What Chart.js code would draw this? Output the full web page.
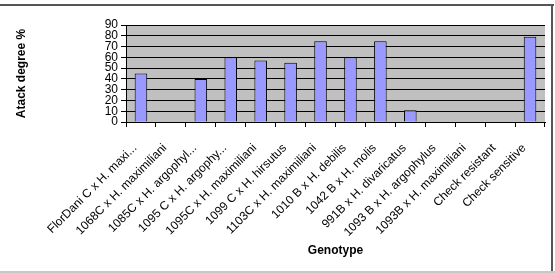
<!DOCTYPE html>
<html>
<head>
<meta charset="utf-8">
<script src="https://cdn.jsdelivr.net/npm/chart.js@4.4.1/dist/chart.umd.min.js"></script>
<style>
  html, body { margin: 0; padding: 0; background: #fff; }
  #wrap { position: relative; width: 555px; height: 273px; overflow: hidden; }
  #frame-top { position: absolute; left: 0; top: 4px; width: 554px; height: 2px; background: #555; }
  #frame-right { position: absolute; left: 551px; top: 4px; width: 2px; height: 268px; background: #555; }
  #frame-bottom { position: absolute; left: 0; top: 271px; width: 555px; height: 2px; background: #c8c8c8; }
</style>
</head>
<body>
<div id="wrap">
  <canvas id="chart" width="555" height="273"></canvas>
  <div id="frame-top"></div>
  <div id="frame-right"></div>
  <div id="frame-bottom"></div>
</div>
<script>
  const genotypes = [
    "FlorDani C x H. maxi...",
    "1068C x H. maximiliani",
    "1085C x H. argophyl...",
    "1095 C x H. argophy...",
    "1095C x H. maximiliani",
    "1099 C x H. hirsutus",
    "1103C x H. maximiliani",
    "1010 B x H. debilis",
    "1042 B x H. molis",
    "991B x H. divaricatus",
    "1093 B x H. argophylus",
    "1093B x H. maximiliani",
    "Check resistant",
    "Check sensitive",
  ];
  const attackDegree = [45, 0, 40, 60, 57, 55, 75, 60, 75, 11, 0, 0, 0, 79];
  const yTicks = [0, 10, 20, 30, 40, 50, 60, 70, 80, 90];

  // fondo gris del área de trazado
  const plotBackground = {
    id: "plotBackground",
    beforeDraw(chart) {
      const { ctx, chartArea } = chart;
      ctx.save();
      ctx.fillStyle = "#c0c0c0";
      ctx.fillRect(chartArea.left, chartArea.top, chartArea.right - chartArea.left, chartArea.bottom - chartArea.top);
      ctx.restore();
    },
  };

  new Chart(document.getElementById("chart"), {
    type: "bar",
    data: {
      labels: genotypes,
      datasets: [
        {
          data: attackDegree,
          backgroundColor: "#9999ff",
          borderColor: "#000000",
          borderWidth: 1,
          barPercentage: 0.42,
          categoryPercentage: 1,
        },
      ],
    },
    options: {
      responsive: false,
      animation: false,
      layout: { padding: { top: 25, right: 10, left: 10, bottom: 11 } },
      plugins: { legend: { display: false }, tooltip: { enabled: false } },
      scales: {
        y: {
          min: 0,
          max: 90,
          afterBuildTicks: (axis) => { axis.ticks = yTicks.map((v) => ({ value: v })); },
          afterFit: (axis) => { axis.width = 116; },
          grid: { color: "#000", lineWidth: 1, tickLength: 5, drawTicks: true },
          border: { color: "#000", width: 1 },
          ticks: {
            color: "#000",
            padding: 3,
            autoSkip: false,
            font: { family: "Liberation Sans", size: 12, lineHeight: 1 },
          },
          title: {
            display: true,
            text: "Atack degree %",
            color: "#000",
            font: { family: "Liberation Sans", size: 12, weight: "bold" },
          },
        },
        x: {
          afterFit: (axis) => { axis.height = 140; },
          grid: { drawOnChartArea: false, drawTicks: true, tickLength: 5, color: "#000" },
          border: { color: "#000", width: 1 },
          ticks: {
            color: "#000",
            minRotation: 45,
            maxRotation: 45,
            autoSkip: false,
            padding: 14,
            labelOffset: -6,
            font: { family: "Liberation Sans", size: 12 },
          },
          title: {
            display: true,
            text: "Genotype",
            color: "#000",
            font: { family: "Liberation Sans", size: 12, weight: "bold" },
          },
        },
      },
    },
    plugins: [plotBackground],
  });
</script>
</body>
</html>
